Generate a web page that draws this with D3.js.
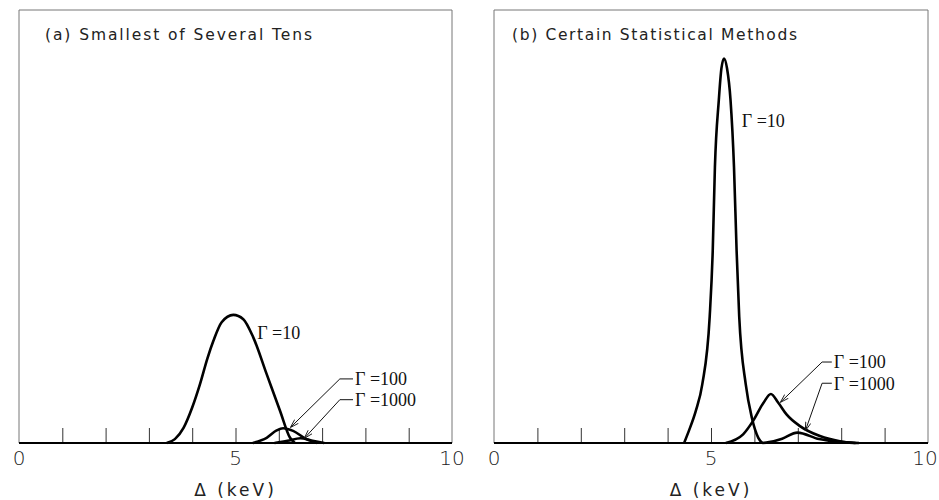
<!DOCTYPE html>
<html>
<head>
<meta charset="utf-8">
<script src="https://cdn.jsdelivr.net/npm/d3@7"></script>
<style>
  body { margin: 0; background: #fff; }
  svg { display: block; }
</style>
</head>
<body>
<script>
// Data: [Delta (keV), relative probability]
var tickValues = [0, 1, 2, 3, 4, 5, 6, 7, 8, 9, 10];
var tickLabels = [0, 5, 10];
var panelTitles = ["(a) Smallest of Several Tens", "(b) Certain Statistical Methods"];

var aGamma10 = [[3.41, 0], [3.60, 0.9], [3.80, 3.5], [4.00, 8.2], [4.18, 13.6], [4.35, 19.5], [4.49, 23.6],
  [4.68, 27.9], [4.95, 29.6], [5.18, 28.6], [5.41, 24.4], [5.72, 15.9], [6.03, 7.4], [6.26, 1.2], [6.37, 0]];
var aGamma100 = [[5.40, 0], [5.72, 1.2], [5.95, 2.9], [6.10, 3.4], [6.33, 2.8], [6.64, 0.9], [6.88, 0]];
var aGamma1000 = [[5.90, 0], [6.20, 0.5], [6.50, 1.1], [6.75, 0.6], [7.05, 0]];

var bGamma10 = [[4.38, 0], [4.49, 2.8], [4.65, 7.4], [4.80, 13.6], [4.97, 29.2], [5.04, 44.4], [5.09, 63.7],
  [5.18, 79.2], [5.24, 86.5], [5.30, 88.8], [5.37, 86.5], [5.45, 79.2], [5.53, 63.7], [5.59, 44.4],
  [5.65, 29.2], [5.80, 13.6], [5.94, 5.9], [6.09, 1.2], [6.18, 0]];
var bGamma100 = [[5.34, 0], [5.74, 2.0], [5.97, 5.1], [6.21, 9.3], [6.38, 11.3], [6.55, 9.3], [6.74, 6.6],
  [7.05, 3.9], [7.51, 1.6], [7.97, 0.4], [8.33, 0]];
var bGamma1000 = [[6.18, 0], [6.34, 0.2], [6.64, 1.0], [6.99, 2.4], [7.49, 0.9], [8.03, 0.2], [8.41, 0]];

// labels: text, anchor point [x, y], optional leader knee and arrow tip (data units)
var aLabels = [
  {text: "Γ =10", at: [5.5, 25.4]},
  {text: "Γ =100", at: [7.76, 14.8], knee: [7.41, 14.8], tip: [6.28, 3.7]},
  {text: "Γ =1000", at: [7.76, 10.0], knee: [7.41, 10.0], tip: [6.6, 1.2]}
];
var bLabels = [
  {text: "Γ =10", at: [5.71, 74.5]},
  {text: "Γ =100", at: [7.83, 18.7], knee: [7.56, 18.7], tip: [6.61, 9.5]},
  {text: "Γ =1000", at: [7.83, 13.8], knee: [7.56, 13.8], tip: [7.18, 3.0]}
];

var w = 939, h = 500;
var frameTop = 10, base = 443;

var svg = d3.select("body").append("svg")
  .attr("width", w)
  .attr("height", h);

svg.append("defs").append("marker")
  .attr("id", "arrow")
  .attr("viewBox", "0 -4 10 8")
  .attr("refX", 9)
  .attr("refY", 0)
  .attr("markerWidth", 9)
  .attr("markerHeight", 7)
  .attr("markerUnits", "userSpaceOnUse")
  .attr("orient", "auto")
  .append("path")
  .attr("d", "M0,-3L10,0L0,3")
  .attr("fill", "none")
  .attr("stroke", "#111")
  .attr("stroke-width", 1);

var y = d3.scaleLinear().domain([0, 100]).range([base, frameTop]);

var panels = [
  {left: 19, right: 452, title: panelTitles[0], titleX: 45, titleW: 267, series: [aGamma10, aGamma100, aGamma1000], labels: aLabels},
  {left: 494, right: 928, title: panelTitles[1], titleX: 512, titleW: 285, series: [bGamma10, bGamma100, bGamma1000], labels: bLabels}
];

panels.forEach(function (p) {
  var x = d3.scaleLinear().domain([0, 10]).range([p.left, p.right]);
  var g = svg.append("g");

  // frame (thin grey on three sides)
  g.append("path")
    .attr("d", "M" + x(0) + "," + base + "V" + frameTop + "H" + x(10) + "V" + base)
    .attr("fill", "none")
    .attr("stroke", "#777")
    .attr("stroke-width", 1);

  // bottom axis with inward ticks
  var axis = d3.axisTop(x).tickValues(tickValues.slice(1, -1)).tickSize(15).tickFormat("");
  var ax = g.append("g")
    .attr("transform", "translate(0," + base + ")")
    .call(axis);
  ax.select(".domain").remove();
  ax.selectAll(".tick line").attr("stroke", "#333").attr("stroke-width", 1);

  g.append("line")
    .attr("x1", x(0)).attr("x2", x(10))
    .attr("y1", base).attr("y2", base)
    .attr("stroke", "#000")
    .attr("stroke-width", 2.2);

  g.selectAll(".tlabel")
    .data(tickLabels)
    .enter().append("text")
    .attr("class", "tlabel")
    .attr("x", function (d) { return Math.min(x(d), w - 14); })
    .attr("y", 465)
    .attr("text-anchor", "middle")
    .style("font-family", "'DejaVu Sans', sans-serif")
    .style("font-size", "20px")
    .style("font-weight", "300")
    .style("fill", "#222")
    .text(function (d) { return d; });

  g.append("text")
    .attr("x", x(5))
    .attr("y", 496)
    .attr("text-anchor", "middle")
    .style("font-family", "'DejaVu Sans', sans-serif")
    .style("font-size", "17px")
    .style("letter-spacing", "3px")
    .style("fill", "#222")
    .text("Δ  (keV)");

  g.append("text")
    .attr("x", p.titleX)
    .attr("y", 40)
    .attr("textLength", p.titleW)
    .attr("lengthAdjust", "spacing")
    .style("font-family", "'DejaVu Sans', sans-serif")
    .style("font-size", "15.5px")
    .style("fill", "#222")
    .text(p.title);

  var line = d3.line()
    .x(function (d) { return x(d[0]); })
    .y(function (d) { return y(d[1]); })
    .curve(d3.curveMonotoneX);

  g.selectAll(".curve")
    .data(p.series)
    .enter().append("path")
    .attr("class", "curve")
    .attr("d", line)
    .attr("fill", "none")
    .attr("stroke", "#000")
    .attr("stroke-width", 2.6)
    .attr("stroke-linejoin", "round");

  p.labels.forEach(function (l) {
    if (l.knee) {
      g.append("path")
        .attr("d", "M" + (x(l.at[0]) - 2) + "," + y(l.knee[1]) + "H" + x(l.knee[0]) +
          "L" + x(l.tip[0]) + "," + y(l.tip[1]))
        .attr("fill", "none")
        .attr("stroke", "#111")
        .attr("stroke-width", 1)
        .attr("marker-end", "url(#arrow)");
    }
    g.append("text")
      .attr("x", x(l.at[0]))
      .attr("y", y(l.at[1]))
      .attr("dy", "0.35em")
      .style("font-family", "'Liberation Serif', 'DejaVu Serif', serif")
      .style("font-size", "18px")
      .style("fill", "#111")
      .text(l.text);
  });
});
</script>
</body>
</html>
